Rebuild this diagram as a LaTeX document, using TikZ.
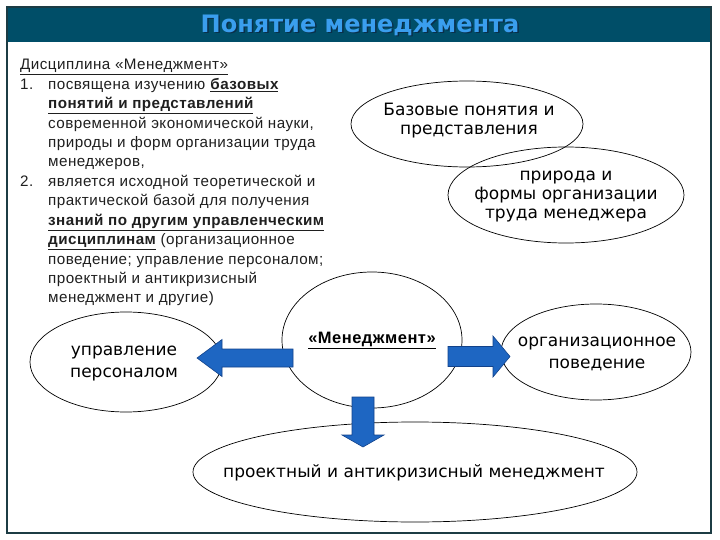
\documentclass[tikz,border=0pt]{standalone}
\usepackage{fontspec}
\setmainfont[LetterSpace=3]{Liberation Sans}
\newfontfamily\dvfont{DejaVu Sans}
\usetikzlibrary{shapes.geometric}
\definecolor{bar}{HTML}{004E68}
\definecolor{framec}{HTML}{1C3C44}
\definecolor{ttl}{HTML}{3A9EEE}
\definecolor{ttlsh}{HTML}{0A2F4A}
\definecolor{arrfill}{HTML}{1E66C2}
\definecolor{arredge}{HTML}{12428A}
\begin{document}
\begin{tikzpicture}[x=1pt,y=-1pt,
  txt/.style={anchor=base west,inner sep=0pt,font=\fontsize{15.2}{17}\selectfont,text=black!88},
  oval/.style={ellipse,draw,line width=0.7pt,inner sep=0pt},
  otext/.style={align=center,inner sep=0pt,font=\dvfont\fontsize{17}{19}\selectfont},
  otextb/.style={align=center,inner sep=0pt,font=\dvfont\fontsize{17}{22}\selectfont},
  barrow/.style={fill=arrfill,draw=arredge,line width=0.6pt,line join=miter}]
\useasboundingbox (0,0) rectangle (720,540);
% frame and title bar
\fill[bar] (7,7) rectangle (711,42);
\draw[framec,line width=1.2pt] (7,7) rectangle (711,533);
\node[font=\dvfont\bfseries\fontsize{24}{28}\selectfont,text=ttlsh,inner sep=0pt] (titsh) at (361.5,26.5) {Понятие менеджмента};
\node[font=\dvfont\bfseries\fontsize{24}{28}\selectfont,text=ttl,inner sep=0pt] (tit) at (360,25) {Понятие менеджмента};
% left text block
\node[txt] (l1) at (20,70) {\underline{Дисциплина «Менеджмент»}};
\node[txt] (n1) at (20,89.4) {1.};
\node[txt] (l2) at (48,89.4) {посвящена изучению \textbf{\underline{базовых}}};
\node[txt] (l3) at (48,108.8) {\textbf{\underline{понятий и представлений}}};
\node[txt] (l4) at (48,128.2) {современной экономической науки,};
\node[txt] (l5) at (48,147.6) {природы и форм организации труда};
\node[txt] (l6) at (48,167) {менеджеров,};
\node[txt] (n2) at (20,186.4) {2.};
\node[txt] (l7) at (48,186.4) {является исходной теоретической и};
\node[txt] (l8) at (48,205.8) {практической базой для получения};
\node[txt] (l9) at (48,225.2) {\textbf{\underline{знаний по другим управленческим}}};
\node[txt] (l10) at (48,244.6) {\textbf{\underline{дисциплинам}} (организационное};
\node[txt] (l11) at (48,264) {поведение; управление персоналом;};
\node[txt] (l12) at (48,283.4) {проектный и антикризисный};
\node[txt] (l13) at (48,302.8) {менеджмент и другие)};
% ellipses
\node[oval,minimum width=232pt,minimum height=86pt] (T1) at (467,124) {};
\node[otext] (T1t) at (469,121) {Базовые понятия и\\представления};
\node[oval,minimum width=236pt,minimum height=96pt] (T2) at (566,195) {};
\node[otext] (T2t) at (566,197) {природа и\\формы организации\\труда менеджера};
\node[oval,minimum width=180pt,minimum height=136pt] (M) at (372,340) {};
\node[inner sep=0pt,font=\bfseries\fontsize{16.5}{19}\selectfont] (Mt) at (372,340) {\underline{«Менеджмент»}};
\node[oval,minimum width=192pt,minimum height=100pt] (L) at (126,362) {};
\node[otextb] (Lt) at (124,364) {управление\\персоналом};
\node[oval,minimum width=190pt,minimum height=96pt] (R) at (596,352) {};
\node[otextb] (Rt) at (597,354) {организационное\\поведение};
\node[oval,minimum width=444pt,minimum height=100pt] (B) at (415,472) {};
\node[otext] (Bt) at (414,473) {проектный и антикризисный менеджмент};
% block arrows
\coordinate (aL) at (293,358);
\coordinate (aR) at (448,356.5);
\coordinate (aD) at (363,397);
\draw[barrow] (aL) ++(0,-9) -- ++(-71,0) -- ++(0,-9.5) -- ++(-25,18.5) -- ++(25,18.5) -- ++(0,-9.5) -- ++(71,0) -- cycle;
\draw[barrow] (aR) ++(0,-10) -- ++(45,0) -- ++(0,-10.5) -- ++(17,20.5) -- ++(-17,20.5) -- ++(0,-10.5) -- ++(-45,0) -- cycle;
\draw[barrow] (aD) ++(-11,0) -- ++(0,38) -- ++(-10,0) -- ++(21,12) -- ++(21,-12) -- ++(-10,0) -- ++(0,-38) -- cycle;
\end{tikzpicture}
\end{document}
